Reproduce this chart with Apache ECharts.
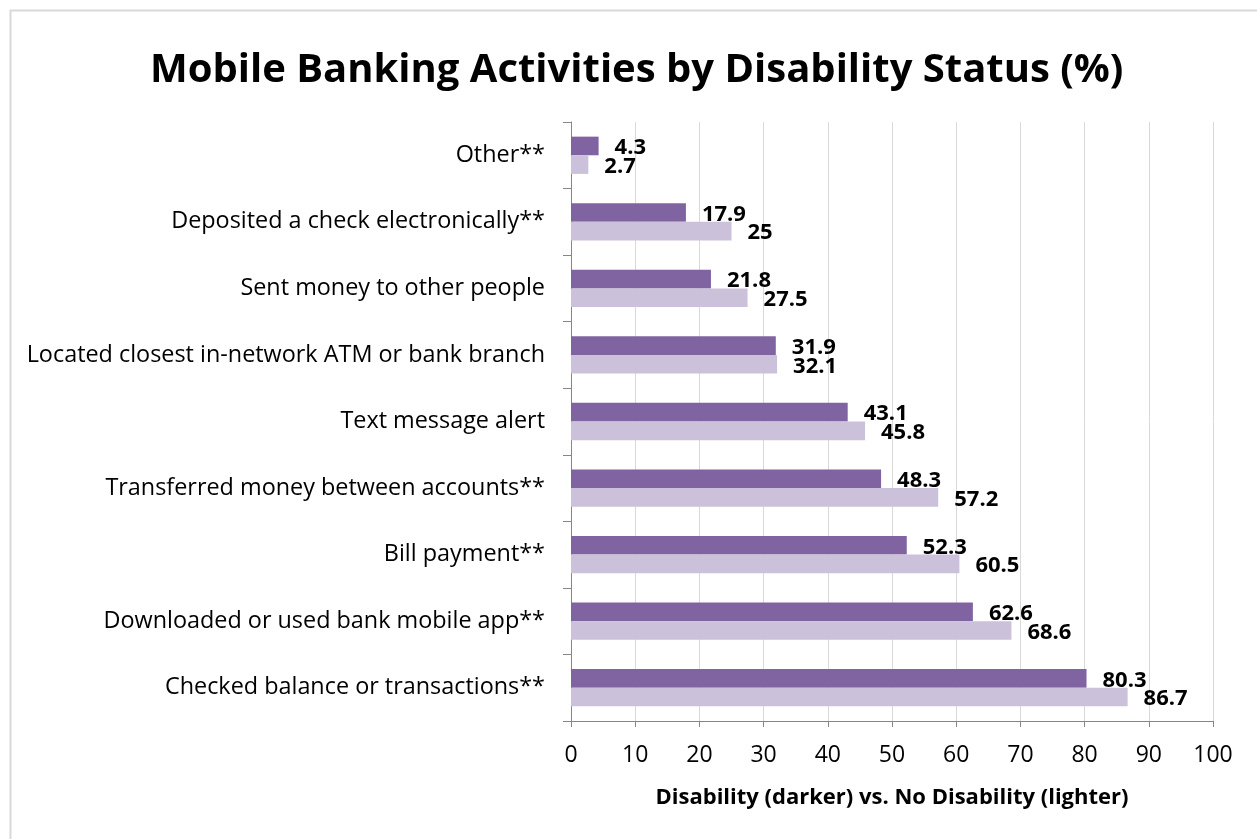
<!DOCTYPE html>
<html>
<head>
<meta charset="utf-8">
<script src="https://cdn.jsdelivr.net/npm/echarts@6/dist/echarts.min.js"></script>
<style>
  html, body { margin: 0; padding: 0; background: #fff; }
  #chart { width: 1257px; height: 839px; }
</style>
</head>
<body>
<div id="chart"></div>
<script>
// Activities, listed bottom to top as they appear on the category axis
const categories = [
  'Checked balance or transactions**',
  'Downloaded or used bank mobile app**',
  'Bill payment**',
  'Transferred money between accounts**',
  'Text message alert',
  'Located closest in-network ATM or bank branch',
  'Sent money to other people',
  'Deposited a check electronically**',
  'Other**'
];
const disability   = [80.3, 62.6, 52.3, 48.3, 43.1, 31.9, 21.8, 17.9, 4.3];
const noDisability = [86.7, 68.6, 60.5, 57.2, 45.8, 32.1, 27.5, 25, 2.7];
const xTicks = [0, 10, 20, 30, 40, 50, 60, 70, 80, 90, 100];

const FONT = '"Open Sans", sans-serif';
const chart = echarts.init(document.getElementById('chart'), null, { renderer: 'canvas' });

const labelStyle = {
  show: true,
  position: 'right',
  distance: 16,
  offset: [0, 2],
  color: '#000',
  fontFamily: FONT,
  fontWeight: 'bold',
  fontSize: 22
};

chart.setOption({
  animation: false,
  backgroundColor: '#fff',
  graphic: [{
    type: 'rect',
    shape: { x: 10.5, y: 10.5, width: 1300, height: 900 },
    style: { fill: 'none', stroke: '#d9d9d9', lineWidth: 2 },
    silent: true
  }],
  title: {
    text: 'Mobile Banking Activities by Disability Status (%)',
    left: 145,
    top: 46,
    textStyle: { fontFamily: FONT, fontWeight: 'bold', fontSize: 40, color: '#000' }
  },
  grid: { left: 571, right: 44, top: 122, bottom: 118, containLabel: false },
  xAxis: {
    type: 'value',
    min: xTicks[0],
    max: xTicks[xTicks.length - 1],
    interval: 10,
    name: 'Disability (darker) vs. No Disability (lighter)',
    nameLocation: 'middle',
    nameGap: 66,
    nameTextStyle: { fontFamily: FONT, fontWeight: 'bold', fontSize: 22, color: '#000' },
    axisLine: { show: true, lineStyle: { color: '#868686', width: 1 } },
    axisTick: { show: true, length: 6, lineStyle: { color: '#868686' } },
    axisLabel: { margin: 23, fontFamily: FONT, fontSize: 23, color: '#000' },
    splitLine: { show: true, lineStyle: { color: '#d9d9d9', width: 1 } }
  },
  yAxis: {
    type: 'category',
    data: categories,
    axisLine: { show: true, lineStyle: { color: '#868686', width: 1 } },
    axisTick: { show: true, length: 8, lineStyle: { color: '#868686' } },
    axisLabel: { margin: 26, fontFamily: FONT, fontSize: 23.4, color: '#000' }
  },
  series: [
    {
      name: 'Disability',
      type: 'bar',
      data: disability,
      barGap: '0%',
      barCategoryGap: '44%',
      itemStyle: { color: '#8064a2' },
      label: labelStyle
    },
    {
      name: 'No Disability',
      type: 'bar',
      data: noDisability,
      itemStyle: { color: '#ccc1da' },
      label: labelStyle
    }
  ]
});
</script>
</body>
</html>
